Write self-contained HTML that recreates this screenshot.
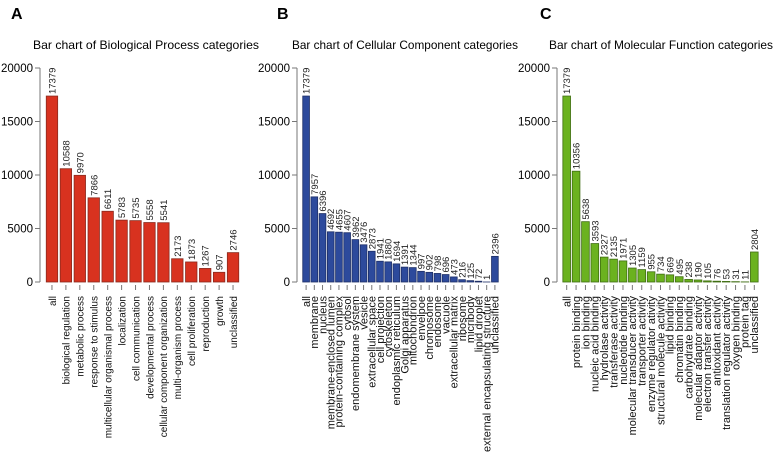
<!DOCTYPE html>
<html><head><meta charset="utf-8"><style>
body{margin:0;background:#fff;}
svg{display:block;font-family:"Liberation Sans",Arial,sans-serif;}
</style></head><body>
<svg id="c" width="778" height="470"></svg>
<script>
const bpCats=["all","biological regulation","metabolic process","response to stimulus","multicellular organismal process","localization","cell communication","developmental process","cellular component organization","multi-organism process","cell proliferation","reproduction","growth","unclassified"];
const bpVals=[17379,10588,9970,7866,6611,5783,5735,5558,5541,2173,1873,1267,907,2746];
const ccCats=["all","membrane","nucleus","membrane-enclosed lumen","protein-containing complex","cytosol","endomembrane system","vesicle","extracellular space","cell projection","cytoskeleton","endoplasmic reticulum","Golgi apparatus","mitochondrion","envelpoe","chromosome","endosome","vacuole","extracellular matrix","ribosome","micribody","lipid droplet","external encapsulating structure","unclassified"];
const ccVals=[17379,7957,6396,4692,4655,4607,3962,3476,2873,1941,1880,1694,1391,1344,997,902,798,696,473,216,125,72,1,2396];
const mfCats=["all","protein binding","ion binding","nucleic acid binding","hydrolase activity","transferase activity","nucleotide binding","molecular transducer activity","transporter activity","enzyme regulator ativity","structural molecule activity","lipid binding","chromatin binding","carbohydrate binding","molecular adaptor activity","electron transfer activity","antioxidant activity","translation regulator activity","oxygen binding","protein tag","unclassified"];
const mfVals=[17379,10356,5638,3593,2327,2135,1971,1305,1159,955,734,669,495,238,190,105,76,53,31,11,2804];
const yTicks=[0,5000,10000,15000,20000];

const NS="http://www.w3.org/2000/svg";
const svg=document.getElementById('c');
function mk(t,a,p){const e=document.createElementNS(NS,t);for(const k in a)e.setAttribute(k,a[k]);(p||svg).appendChild(e);return e;}

function panel(key,letter,title,cats,vals,o){
  const g=mk('g',{});
  
  
  const y=v=>282-v*(214/20000);
  const L=mk('text',{x:o.lx,y:19,'font-size':16,'font-weight':'bold'},g);L.textContent=letter;
  
  const T=mk('text',{x:o.tx,y:49,'font-size':12,textLength:o.tl,lengthAdjust:'spacingAndGlyphs'},g);T.textContent=title;
  
  const ax=mk('line',{x1:o.ax,x2:o.ax,y1:y(0),y2:y(20000),stroke:'#777','stroke-width':1},g);
  
  yTicks.forEach(t=>{
    const tk=mk('line',{x1:o.ax-5,x2:o.ax,y1:y(t),y2:y(t),stroke:'#777'},g);
    
    const tl=mk('text',{x:o.ax-7,y:y(t)+4,'font-size':11.5,'text-anchor':'end'},g);tl.textContent=t;
    
  });
  const n=cats.length,pitch=(o.x1-o.x0)/n,bw=pitch*0.82;
  vals.forEach((v,i)=>{
    const cx=o.x0+pitch*(i+0.5);
    const r=mk('rect',{x:cx-bw/2,y:y(v),width:bw,height:y(0)-y(v),fill:o.fill,stroke:o.stroke,'stroke-width':0.8},g);
    
    
    const vt=mk('text',{transform:`translate(${cx+3.5},${y(v)-2}) rotate(-90)`,'font-size':o.vf,fill:'#222'},g);vt.textContent=v;
    
    const tk=mk('line',{x1:cx,x2:cx,y1:285,y2:290,stroke:'#777'},g);
    
    const ct=mk('text',{transform:`translate(${cx+3.8},296) rotate(-90)`,'font-size':o.cf,'text-anchor':'end',fill:'#111'},g);ct.textContent=cats[i];
    
  });
}
panel('bp','A','Bar chart of Biological Process categories',bpCats,bpVals,{lx:11,tx:33,tl:226,ax:40,x0:45,x1:240,fill:'#d8321f',stroke:'#8a2a1e',vf:9.5,cf:10});
panel('cc','B','Bar chart of Cellular Component categories',ccCats,ccVals,{lx:277,tx:292,tl:226,ax:297,x0:302,x1:499,fill:'#2d4a9c',stroke:'#1e2f66',vf:9.5,cf:11});
panel('mf','C','Bar chart of Molecular Function categories',mfCats,mfVals,{lx:540,tx:549,tl:224,ax:557,x0:562,x1:759,fill:'#6bb21f',stroke:'#3f6d12',vf:9.5,cf:11});
</script>
</body></html>
